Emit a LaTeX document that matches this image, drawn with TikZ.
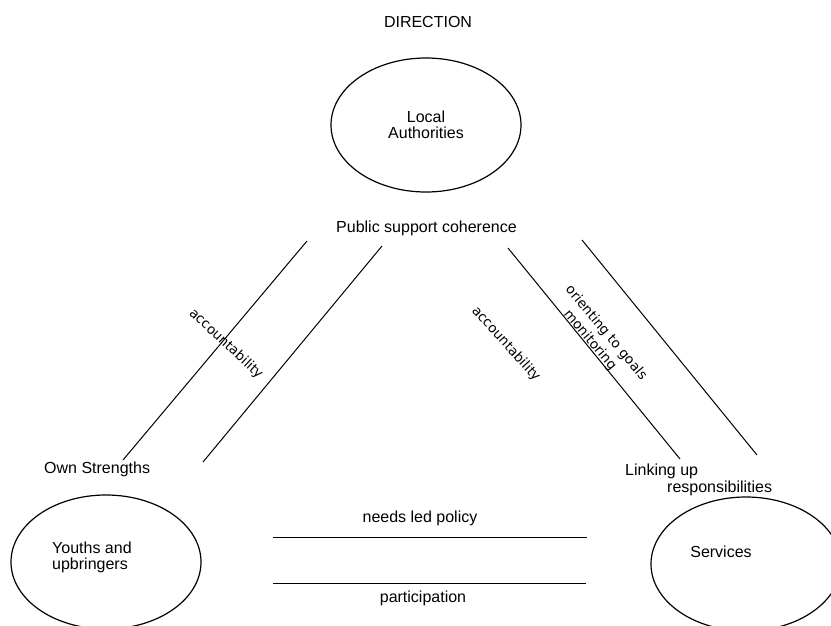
\documentclass[tikz,border=0pt]{standalone}
\usepackage{fontspec}
\setmainfont{Liberation Sans}
\newfontfamily\slopefont{DejaVu Sans}
\usetikzlibrary{shapes.geometric,positioning}

\begin{document}
\begin{tikzpicture}[x=1pt,y=-1pt,
		every node/.style={font=\fontsize{16}{16}\selectfont},
		oval/.style={ellipse,draw,line width=1.2pt,minimum width=190pt,minimum height=134pt,inner sep=0pt},
		word/.style={anchor=base,inner sep=0pt},
		slope/.style={font=\slopefont\fontsize{13.5}{14}\selectfont,inner sep=0pt},
		bar/.style={line width=1pt}]
		\useasboundingbox (0,0) rectangle (831,625);

		% the three parties
		\draw (426,125) node[oval,align=center] (la) {Local\\Authorities};
		\draw (106,562) node[oval] (yu) {};
		\draw (746,564) node[oval] (sv) {};
		\draw (52,557) node[anchor=west,align=left,inner sep=0pt] (yutxt) {Youths and\\upbringers};
		\draw (721,552) node[inner sep=0pt] (svtxt) {Services};

		% headings
		\draw (428,27) node[word] (dir) {DIRECTION};
		\draw (426.5,232) node[word] (psc) {Public support coherence};
		\draw (44,473) node[word,anchor=base west] (own) {Own Strengths};
		\draw (625,475) node[word,anchor=base west] (link) {Linking up};
		\draw (667,492) node[word,anchor=base west] (resp) {responsibilities};
		\draw (420,522) node[word] (needs) {needs led policy};
		\draw (423,602) node[word] (part) {participation};

		% line ends
		\coordinate (os1a) at (307,241); \coordinate (os1b) at (123,460);
		\coordinate (os2a) at (382,246); \coordinate (os2b) at (203,462);
		\coordinate (lk1a) at (508,248); \coordinate (lk1b) at (680,459);
		\coordinate (lk2a) at (582,240); \coordinate (lk2b) at (757,455);
		\coordinate (np1a) at (273,537); \coordinate (np1b) at (587,537);
		\coordinate (np2a) at (273,583); \coordinate (np2b) at (586,583);

		\draw[bar] (os1a) -- (os1b);
		\draw[bar] (os2a) -- (os2b);
		\draw[bar] (lk1a) -- (lk1b);
		\draw[bar] (lk2a) -- (lk2b);
		\draw[bar] (np1a) -- (np1b);
		\draw[bar] (np2a) -- (np2b);

		% sloped labels
		\draw (226,344) node[slope,rotate=-43] (acc1) {accountability};
		\draw (506,344) node[slope,rotate=-48] (acc2) {accountability};
		\draw (606,333) node[slope,rotate=-50] (goals) {orienting to goals};
		\draw (590,340) node[slope,rotate=-50] (mon) {monitoring};
\end{tikzpicture}
\end{document}
